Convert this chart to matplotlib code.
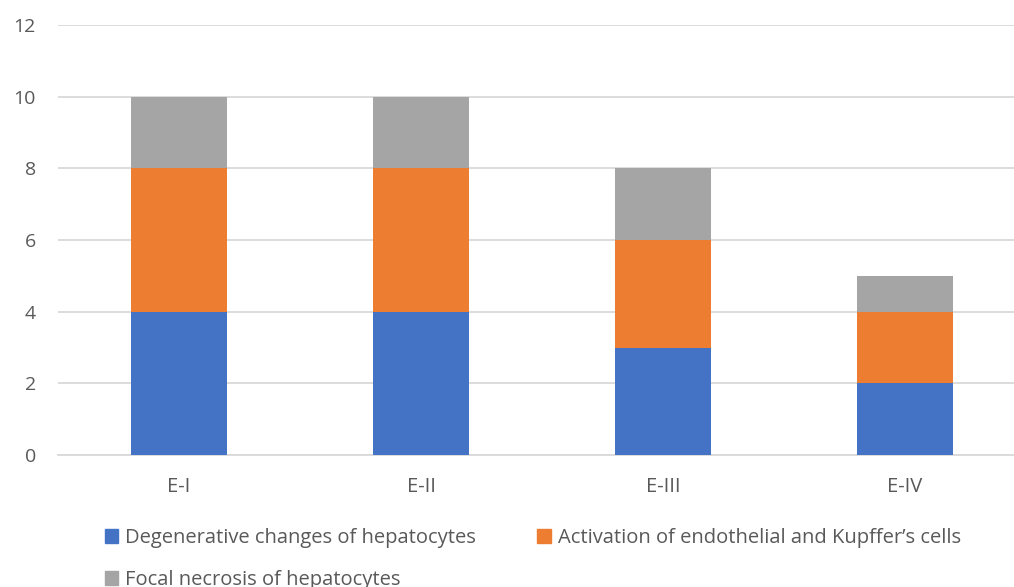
import numpy as np
import matplotlib.pyplot as plt
from matplotlib.patches import Patch

groups = ["E-I", "E-II", "E-III", "E-IV"]
degenerative = [4, 4, 3, 2]
activation = [4, 4, 3, 2]
necrosis = [2, 2, 2, 1]
series_names = ["Degenerative changes of hepatocytes",
                "Activation of endothelial and Kupffer\u2019s cells",
                "Focal necrosis of hepatocytes"]
colors = ["#4472C4", "#ED7D31", "#A5A5A5"]
yticks = [0, 2, 4, 6, 8, 10, 12]

plt.rcParams['font.family'] = ['Open Sans', 'DejaVu Sans']
text_color = "#595959"

W, H = 1014, 587
fig = plt.figure(figsize=(W / 100, H / 100), dpi=100)
# plot area in pixels: x 58..1026 (runs off the right edge), y 25..455
ax = fig.add_axes([58 / W, 1 - 455 / H, (1026 - 58) / W, (455 - 25) / H])

x = np.arange(len(groups))
width = 0.4
bottom = np.zeros(len(groups))
for vals, c in zip([degenerative, activation, necrosis], colors):
    ax.bar(x, vals, width, bottom=bottom, color=c, zorder=3)
    bottom += np.array(vals)

ax.set_xlim(-0.5, 3.5)
ax.set_ylim(0, 12)
ax.set_yticks(yticks)
ax.set_xticks(x)
ax.set_xticklabels(groups)
ax.yaxis.grid(True, color="#D9D9D9", linewidth=1.3, zorder=0)
ax.tick_params(axis='y', length=0, pad=16, labelsize=14, labelcolor=text_color)
ax.tick_params(axis='x', length=0, pad=16, labelsize=14.5, labelcolor=text_color)
for s in ["top", "right", "left"]:
    ax.spines[s].set_visible(False)
ax.spines["bottom"].set_color("#D9D9D9")
ax.spines["bottom"].set_linewidth(1.3)

# legend: two items on the first row, the third wraps below (cut by the figure edge)
handles = [Patch(color=c) for c in colors]
order = [0, 2, 1]
leg = fig.legend([handles[i] for i in order], [series_names[i] for i in order],
                 ncol=2, frameon=False, fontsize=14.5, labelcolor=text_color,
                 loc="upper left", bbox_to_anchor=(97 / W, 1 - 520 / H),
                 handlelength=0.65, handleheight=0.65, handletextpad=0.35,
                 labelspacing=1.1, columnspacing=3.05, borderaxespad=0)

fig.savefig("out.png", dpi=100)
